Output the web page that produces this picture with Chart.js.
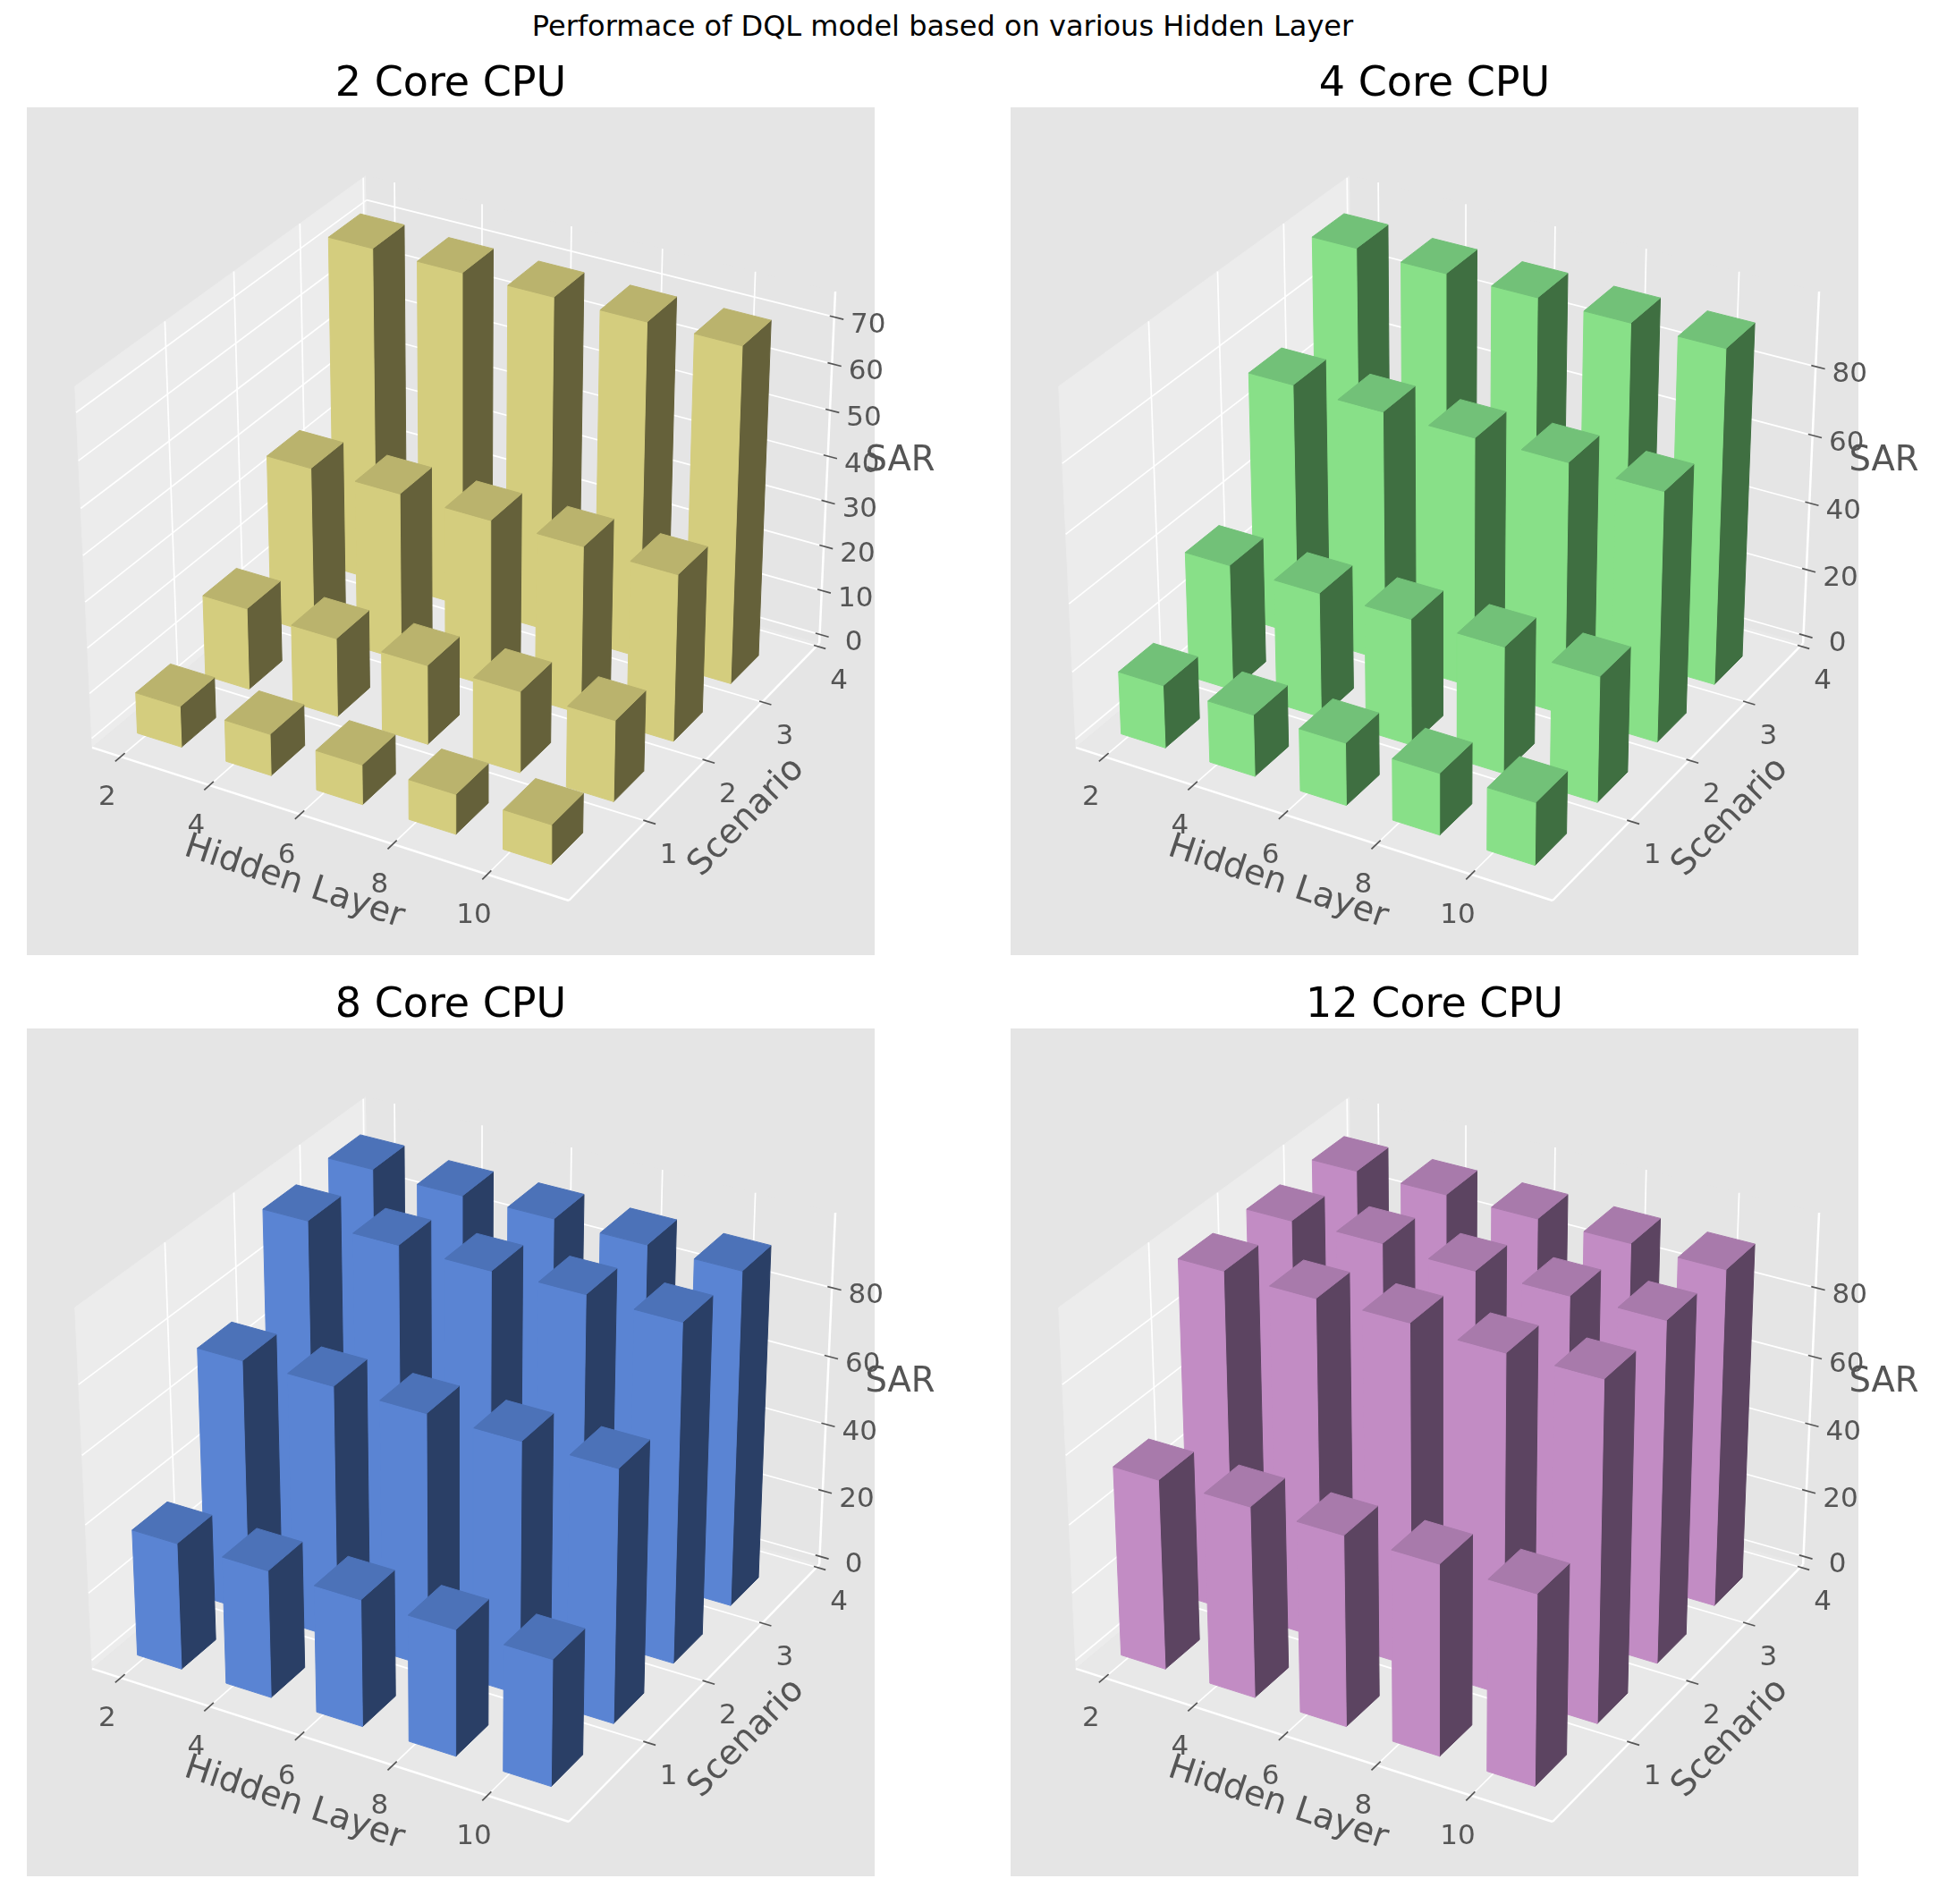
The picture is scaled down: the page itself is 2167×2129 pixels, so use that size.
<!DOCTYPE html>
<html>
<head>
<meta charset="utf-8">
<title>Performace of DQL model</title>
<script src="https://cdn.jsdelivr.net/npm/chart.js@4/dist/chart.umd.min.js"></script>
<style>
  html, body { margin: 0; background: #fff; }
  #page { position: relative; width: 2167px; height: 2129px; overflow: hidden; }
  #suptitle { position: absolute; left: 0; top: 10px; width: 2108px; text-align: center;
    font: 32px "DejaVu Sans"; color: #000; line-height: 38px; }
  canvas { position: absolute; }
</style>
</head>
<body>
<div id="page">
  <div id="suptitle">Performace of DQL model based on various Hidden Layer</div>
</div>
<script>
// values, one row per scenario (front row first)
const hiddenLayers = [2, 4, 6, 8, 10];
const scenarioTicks = [1, 2, 3, 4];
const rowStarts = [0, 1, 2, 3];
const ticks70 = [0, 10, 20, 30, 40, 50, 60, 70];
const ticks80 = [0, 20, 40, 60, 80];

const sar2core = [
  [9.0, 9.1, 8.7, 8.7, 8.6],
  [18.0, 17.3, 17.4, 17.8, 17.7],
  [37.1, 37.0, 36.8, 36.8, 36.5],
  [74.0, 73.7, 73.5, 73.3, 73.4]
];
const sar4core = [
  [18.5, 18.1, 18.3, 18.0, 18.2],
  [37.2, 36.8, 37.1, 37.1, 36.7],
  [74.4, 73.7, 73.4, 73.7, 72.9],
  [99.6, 98.9, 98.7, 98.3, 98.0]
];
const sar8core = [
  [37.0, 37.1, 36.9, 36.6, 36.5],
  [73.7, 73.7, 73.4, 73.1, 73.1],
  [98.8, 98.7, 98.3, 98.7, 98.1],
  [99.6, 98.6, 98.7, 98.1, 97.6]
];
const sar12core = [
  [55.3, 55.4, 55.2, 55.1, 54.9],
  [99.0, 98.3, 98.6, 97.5, 97.7],
  [98.8, 99.2, 98.3, 98.3, 98.6],
  [99.1, 98.9, 98.7, 98.5, 98.0]
];

const panels = [
  { title: '2 Core CPU', sar: sar2core, zTicks: ticks70, zLim: [-2.06, 75.38], left: 0, top: 40,
    front: '#D4CD7E', topFace: '#BAB36D', side: '#65613A' },
  { title: '4 Core CPU', sar: sar4core, zTicks: ticks80, zLim: [-2.53, 101.39], left: 1100, top: 40,
    front: '#88E088', topFace: '#72C178', side: '#3F6F41' },
  { title: '8 Core CPU', sar: sar8core, zTicks: ticks80, zLim: [-2.53, 101.39], left: 0, top: 1070,
    front: '#5A84D3', topFace: '#4C72B8', side: '#2A3F66' },
  { title: '12 Core CPU', sar: sar12core, zTicks: ticks80, zLim: [-2.53, 101.39], left: 1100, top: 1070,
    front: '#C28CC4', topFace: '#A87AAB', side: '#5C4461' }
];

const xLim = [1.35, 11.69];
const yLim = [-0.245, 4.05];
const barDx = 1;
const barDy = 0.5;

// camera fitted to the axes box, the usual mplot3d view
const elev = 29.6 * Math.PI / 180;
const azim = -60.2 * Math.PI / 180;
const dist = 9.885;
const boxW = 1.19;
const boxH = 0.8955;
const viewScale = 5058;
const viewCx = 487.3;
const viewCy = 461.7;
const PANEL = 948;

const w = [Math.cos(elev) * Math.cos(azim), Math.cos(elev) * Math.sin(azim), Math.sin(elev)];
const uLen = Math.hypot(w[0], w[1]);
const u = [-w[1] / uLen, w[0] / uLen, 0];
const v = [-w[2] * u[1], w[2] * u[0], w[0] * u[1] - w[1] * u[0]];

// a, b, c are fractions of the box along x, y, z
function project(a, b, c) {
  const q = [(a - 0.5) * boxW - dist * w[0], (b - 0.5) * boxW - dist * w[1], (c - 0.5) * boxH - dist * w[2]];
  const depth = -(q[0] * w[0] + q[1] * w[1] + q[2] * w[2]);
  return {
    x: viewCx + viewScale * (q[0] * u[0] + q[1] * u[1]) / depth,
    y: viewCy - viewScale * (q[0] * v[0] + q[1] * v[1] + q[2] * v[2]) / depth
  };
}

function frac(val, lim) {
  return (val - lim[0]) / (lim[1] - lim[0]);
}

function poly(corners, color) {
  const data = corners.map(c => project(c[0], c[1], c[2]));
  data.push(data[0]);
  return { data, fill: 'shape', backgroundColor: color, borderColor: color, borderWidth: 1,
    pointRadius: 0, tension: 0 };
}

function line(from, to, color, width) {
  return { data: [project(from[0], from[1], from[2]), project(to[0], to[1], to[2])], fill: false,
    borderColor: color, borderWidth: width, pointRadius: 0, tension: 0 };
}

function buildDatasets(panel) {
  const sets = [];
  // panes
  sets.push(poly([[0, 0, 0], [0, 1, 0], [0, 1, 1], [0, 0, 1]], '#ECECEC'));
  sets.push(poly([[0, 1, 0], [1, 1, 0], [1, 1, 1], [0, 1, 1]], '#E5E5E5'));
  sets.push(poly([[0, 0, 0], [1, 0, 0], [1, 1, 0], [0, 1, 0]], '#E8E8E8'));

  // grid
  hiddenLayers.forEach(h => {
    const a = frac(h, xLim);
    sets.push(line([a, 0, 0], [a, 1, 0], '#fff', 1.7));
    sets.push(line([a, 1, 0], [a, 1, 1], '#fff', 1.7));
  });
  scenarioTicks.forEach(s => {
    const b = frac(s, yLim);
    sets.push(line([0, b, 0], [1, b, 0], '#fff', 1.7));
    sets.push(line([0, b, 0], [0, b, 1], '#fff', 1.7));
  });
  panel.zTicks.forEach(z => {
    const c = frac(z, panel.zLim);
    sets.push(line([0, 0, c], [0, 1, c], '#fff', 1.7));
    sets.push(line([0, 1, c], [1, 1, c], '#fff', 1.7));
  });

  // axis lines
  sets.push(line([0, 0, 0], [1, 0, 0], '#fff', 2.5));
  sets.push(line([1, 0, 0], [1, 1, 0], '#fff', 2.5));
  sets.push(line([1, 1, 0], [1, 1, 1], '#fff', 2.5));

  // tick marks
  hiddenLayers.forEach(h => {
    const a = frac(h, xLim);
    sets.push(line([a, 0.014, 0], [a, -0.018, 0], '#555555', 1.7));
  });
  scenarioTicks.forEach(s => {
    const b = frac(s, yLim);
    sets.push(line([0.994, b, 0], [1.019, b, 0], '#555555', 1.7));
  });
  panel.zTicks.forEach(z => {
    const c = frac(z, panel.zLim);
    sets.push(line([0.991, 1, c], [1.019, 1, c], '#555555', 1.7));
  });

  // bars, back row first and left to right so nearer ones paint over
  for (let r = rowStarts.length - 1; r >= 0; r--) {
    hiddenLayers.forEach((h, i) => {
      const a0 = frac(h, xLim), a1 = frac(h + barDx, xLim);
      const b0 = frac(rowStarts[r], yLim), b1 = frac(rowStarts[r] + barDy, yLim);
      const c0 = frac(0, panel.zLim), c1 = frac(panel.sar[r][i], panel.zLim);
      sets.push(poly([[a1, b0, c0], [a1, b1, c0], [a1, b1, c1], [a1, b0, c1]], panel.side));
      sets.push(poly([[a0, b0, c0], [a1, b0, c0], [a1, b0, c1], [a0, b0, c1]], panel.front));
      sets.push(poly([[a0, b0, c1], [a1, b0, c1], [a1, b1, c1], [a0, b1, c1]], panel.topFace));
    });
  }
  // chart.js paints the highest index first
  return sets.reverse();
}

const axisText = {
  id: 'axisText',
  beforeDraw(chart) {
    const { ctx, chartArea } = chart;
    ctx.save();
    ctx.fillStyle = '#E5E5E5';
    ctx.fillRect(chartArea.left, chartArea.top, chartArea.width, chartArea.height);
    ctx.restore();
  },
  afterDatasetsDraw(chart) {
    const { ctx, scales } = chart;
    const panel = chart.options.plugins.axisText.panel;
    const put = (text, x, y, size, angle) => {
      ctx.save();
      ctx.translate(scales.x.getPixelForValue(x), scales.y.getPixelForValue(y));
      ctx.rotate((angle || 0) * Math.PI / 180);
      ctx.font = size + 'px "DejaVu Sans"';
      ctx.fillStyle = '#555555';
      ctx.textAlign = 'center';
      ctx.textBaseline = 'middle';
      ctx.fillText(text, 0, 0);
      ctx.restore();
    };
    hiddenLayers.forEach(h => {
      const p = project(frac(h, xLim), 0, 0);
      put(String(h), p.x - 15, p.y + 46, 31);
    });
    scenarioTicks.forEach(s => {
      const p = project(1, frac(s, yLim), 0);
      put(String(s), p.x + 25, p.y + 39, 31);
    });
    panel.zTicks.forEach(z => {
      const p = project(1, 1, frac(z, panel.zLim));
      put(String(z), p.x + 38, p.y + 9.5, 31);
    });
    put('Hidden Layer', 299, 867, 38.5, 18.5);
    put('Scenario', 805, 794, 38.5, -46);
    put('SAR', 976.5, 395.5, 38.5);
  }
};

const page = document.getElementById('page');
panels.forEach(panel => {
  const canvas = document.createElement('canvas');
  canvas.width = 1067;
  canvas.height = 1040;
  canvas.style.left = panel.left + 'px';
  canvas.style.top = panel.top + 'px';
  page.appendChild(canvas);
  new Chart(canvas, {
    type: 'line',
    data: { datasets: buildDatasets(panel) },
    plugins: [axisText],
    options: {
      responsive: false,
      animation: false,
      events: [],
      clip: false,
      layout: { padding: { left: 30, right: 89, top: 0, bottom: 12 } },
      scales: {
        x: { type: 'linear', display: false, min: 0, max: PANEL },
        y: { type: 'linear', display: false, min: 0, max: PANEL, reverse: true }
      },
      plugins: {
        legend: { display: false },
        tooltip: { enabled: false },
        axisText: { panel },
        title: {
          display: true,
          text: panel.title,
          fullSize: false,
          color: '#000',
          font: { family: '"DejaVu Sans"', size: 46, weight: 'normal', lineHeight: 1 },
          padding: { top: 32, bottom: 2 }
        }
      }
    }
  });
});
</script>
</body>
</html>
